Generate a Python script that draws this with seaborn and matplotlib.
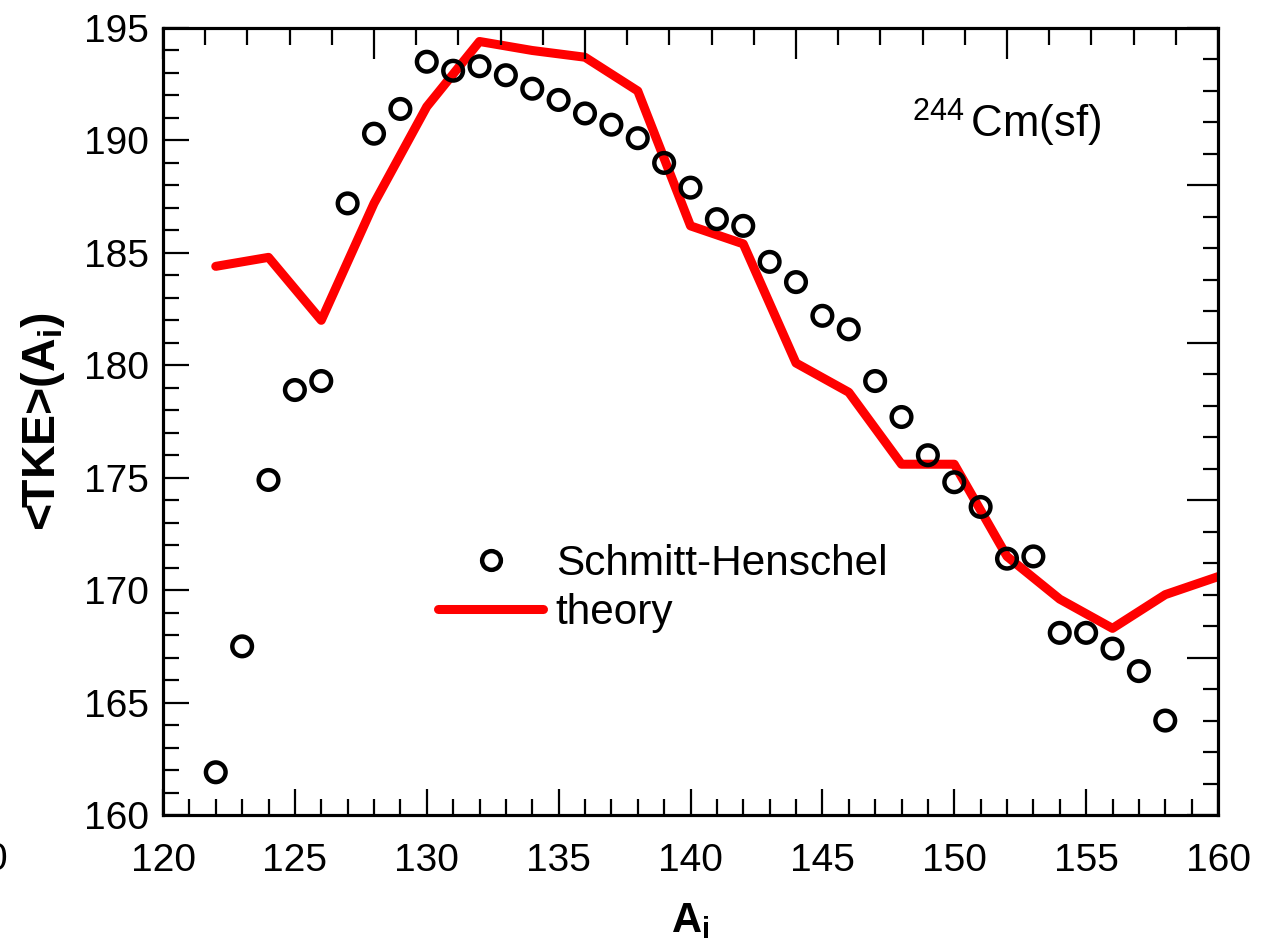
import matplotlib
matplotlib.use("Agg")
import matplotlib.pyplot as plt
from matplotlib.ticker import MultipleLocator
from matplotlib.lines import Line2D
import seaborn as sns
import pandas as pd

# Measured mean total kinetic energy vs. fragment mass (Schmitt-Henschel)
exp_mass = [122, 123, 124, 125, 126, 127, 128, 129, 130, 131, 132, 133, 134,
            135, 136, 137, 138, 139, 140, 141, 142, 143, 144, 145, 146, 147,
            148, 149, 150, 151, 152, 153, 154, 155, 156, 157, 158]
exp_tke = [161.9, 167.5, 174.9, 178.9, 179.3, 187.2, 190.3, 191.4, 193.5,
           193.1, 193.3, 192.9, 192.3, 191.8, 191.2, 190.7, 190.1, 189.0,
           187.9, 186.5, 186.2, 184.6, 183.7, 182.2, 181.6, 179.3, 177.7,
           176.0, 174.8, 173.7, 171.4, 171.5, 168.1, 168.1, 167.4, 166.4,
           164.2]

# Calculated curve
th_mass = [122, 124, 126, 128, 130, 132, 134, 136, 138, 140, 142, 144, 146,
           148, 150, 152, 154, 156, 158, 160]
th_tke = [184.4, 184.8, 182.0, 187.2, 191.5, 194.4, 194.0, 193.7, 192.2,
          186.2, 185.4, 180.1, 178.8, 175.6, 175.6, 171.5, 169.6, 168.3,
          169.8, 170.6]

x_ticks = [120, 125, 130, 135, 140, 145, 150, 155, 160]
y_ticks = [160, 165, 170, 175, 180, 185, 190, 195]

sns.set_theme(style="ticks")
plt.rcParams["font.family"] = ["Liberation Sans", "DejaVu Sans"]
plt.rcParams["mathtext.fontset"] = "custom"
plt.rcParams["mathtext.rm"] = "Liberation Sans"
plt.rcParams["mathtext.it"] = "Liberation Sans:italic"
plt.rcParams["mathtext.bf"] = "Liberation Sans:bold"
for key in ("text.color", "axes.labelcolor", "xtick.color", "ytick.color",
            "axes.edgecolor"):
    plt.rcParams[key] = "black"

exp_df = pd.DataFrame({"A": exp_mass, "TKE": exp_tke})
th_df = pd.DataFrame({"A": th_mass, "TKE": th_tke})

fig = plt.figure(figsize=(12.84, 9.46), dpi=100)
ax = fig.add_axes([0.12695, 0.13848, 0.82165, 0.83192])

sns.lineplot(data=th_df, x="A", y="TKE", ax=ax, color="#ff0000", lw=6.5,
             zorder=2, clip_on=True)
sns.scatterplot(data=exp_df, x="A", y="TKE", ax=ax, marker="o", s=200,
                linewidth=3.2, zorder=3)
pts = ax.collections[-1]
pts.set_facecolor("none")
pts.set_edgecolor("black")

ax.set_xlim(120, 160)
ax.set_ylim(160, 195)
ax.set_xticks(x_ticks)
ax.set_yticks(y_ticks)
ax.xaxis.set_minor_locator(MultipleLocator(1))
ax.yaxis.set_minor_locator(MultipleLocator(1))
ax.tick_params(which="major", direction="in", length=19, width=1.6,
               labelsize=28, color="black", labelcolor="black")
ax.tick_params(which="minor", direction="in", length=11.5, width=1.6,
               color="black")
ax.tick_params(axis="x", which="major", pad=20)
ax.tick_params(axis="y", which="major", pad=10)
for sp in ax.spines.values():
    sp.set_linewidth(2.2)
    sp.set_color("black")

ax.set_xlabel(r"A$_{\mathbf{i}}$", fontsize=30, fontweight="bold", labelpad=16)
ax.set_ylabel(r"<TKE>(A$_{\mathbf{i}}$)", fontsize=33.5, fontweight="bold",
              labelpad=12)

# Auxiliary frame scales on the top and right edges
axt = ax.twiny()
axt.set_xlim(0, 25)
axt.xaxis.set_major_locator(MultipleLocator(5))
axt.xaxis.set_minor_locator(MultipleLocator(1))
axt.tick_params(axis="x", which="major", direction="in", length=22, width=1.6,
                labeltop=False, color="black")
axt.tick_params(axis="x", which="minor", direction="in", length=12, width=1.6,
                color="black")
axr = ax.twinx()
axr.set_ylim(0, 25)
axr.yaxis.set_major_locator(MultipleLocator(5))
axr.yaxis.set_minor_locator(MultipleLocator(1))
axr.tick_params(axis="y", which="major", direction="in", length=22, width=1.6,
                labelright=False, color="black")
axr.tick_params(axis="y", which="minor", direction="in", length=11, width=1.6,
                color="black")
for a in (axt, axr):
    for sp in a.spines.values():
        sp.set_linewidth(2.2)
        sp.set_color("black")

ax.text(148.4, 190.1, r"$^{244}\,$Cm(sf)", fontsize=31.5, ha="left",
        va="baseline", color="black")

handles = [
    Line2D([], [], marker="o", ls="none", mfc="none", mec="black", mew=3.2,
           ms=13.5),
    Line2D([], [], color="#ff0000", lw=6.5),
]
leg = ax.legend(handles, ["Schmitt-Henschel", "theory"], loc="upper left",
                bbox_to_anchor=(438 / 1284, 1 - 544 / 946),
                bbox_transform=fig.transFigure, frameon=False, fontsize=30.5,
                handlelength=2.48, handletextpad=0.30, labelspacing=0.22,
                borderpad=0, borderaxespad=0)
for t in leg.get_texts():
    t.set_color("black")

fig.text(-4 / 1284, 1 - 860 / 946, "0", fontsize=28, ha="center",
         va="center", color="black")

fig.savefig("out.png", dpi=100)
